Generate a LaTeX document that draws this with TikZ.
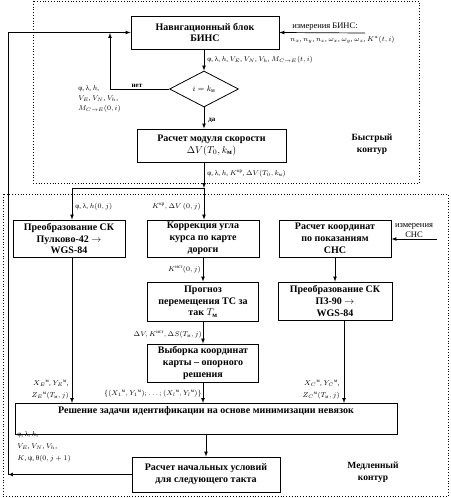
\documentclass[tikz,border=0pt]{standalone}
\usepackage{amsmath,amssymb}
\usepackage{fontspec}
\setmainfont{Liberation Serif}
\usetikzlibrary{arrows,shapes.geometric}

\tikzset{
  blok/.style={draw, line width=0.8pt, align=center, inner sep=1pt,
    font=\fontsize{10}{11.8}\selectfont\bfseries},
  romb/.style={draw, diamond, line width=0.8pt, inner sep=0pt, aspect=1.9,
    font=\fontsize{8.5}{10}\selectfont},
  metka/.style={font=\fontsize{7}{12}\selectfont, inner sep=0pt, align=left},
  ramka/.style={dotted, line width=0.8pt},
  kontur/.style={font=\fontsize{9.5}{12}\selectfont\bfseries, align=center},
}

\begin{document}
\begin{tikzpicture}[x=1pt,y=-1pt,>=latex,line width=0.7pt]
\useasboundingbox (0,0) rectangle (450,498);

% contours
\draw[ramka] (33,1) rectangle (419,183);
\draw[ramka] (3,194) rectangle (448,496);
\node[kontur] (bystr) at (372,144) {Быстрый\\контур};
\node[kontur] (medl) at (373,472) {Медленный\\контур};

% helper points
\coordinate (jB) at (110,33);
\coordinate (jR) at (204,188);
\coordinate (inB) at (365,33);
\coordinate (inS) at (437,239);
\coordinate (lB) at (8,474);
\coordinate (xE) at (72,0);
\coordinate (xC) at (344,0);

% fast contour
\node[blok, minimum width=148pt, minimum height=33pt] (bins) at (205,32.5) {Навигационный блок\\БИНС};
\node[romb, minimum width=69pt, minimum height=36pt] (rmb) at (204,89) {$i = k_{\text{м}}$};
\node[blok, minimum width=149pt, minimum height=33pt] (skor) at (211.5,145.5) {Расчет модуля скорости\\$\Delta V(T_0,k_{\text{м}})$};

% slow contour
\node[blok, minimum width=112pt, minimum height=37pt] (preob) at (69,238.5) {Преобразование СК\\Пулково-42 $\rightarrow$\\WGS-84};
\node[blok, minimum width=112pt, minimum height=37pt] (korr) at (203,238.5) {Коррекция угла\\курса по карте\\дороги};
\node[blok, minimum width=112pt, minimum height=37pt] (snsr) at (335,238.5) {Расчет координат\\по показаниям\\СНС};
\node[blok, minimum width=111pt, minimum height=39pt] (prog) at (203,301.5) {Прогноз\\перемещения ТС за\\так $T_{\text{м}}$};
\node[blok, minimum width=114pt, minimum height=38pt] (pz) at (335,301) {Преобразование СК\\ПЗ-90 $\rightarrow$\\WGS-84};
\node[blok, minimum width=111pt, minimum height=38pt] (vyb) at (203,363) {Выборка координат\\карты -- опорного\\решения};
\node[blok, minimum width=382pt, anchor=north, inner ysep=3pt, text height=7pt, text depth=18pt] (resh) at (206,403) {Решение задачи идентификации на основе минимизации невязок};
\node[blok, minimum width=148pt, minimum height=35pt] (nach) at (206,474.5) {Расчет начальных условий\\для следующего такта};

% labels
\node[metka, anchor=south west, font=\fontsize{8.5}{10}\selectfont] (izmB) at (292,31) {измерения БИНС:};
\node[metka, anchor=north west] (izmB2) at (290,36) {$n_x$, $n_y$, $n_z$, $\omega_x$, $\omega_y$, $\omega_z$, $K^a(t,i)$};
\node[metka, anchor=west] (lbB) at (207,60) {φ, λ, $h$, $V_E$, $V_N$, $V_h$, $M_{C\to E}(t,i)$};
\node[metka, anchor=south] (lbNet) at (137,88) {\bfseries нет};
\node[metka, anchor=west, font=\fontsize{7}{10}\selectfont] (lbL) at (78,99) {φ, λ, $h$,\\$V_E$, $V_N$, $V_h$,\\$M_{C\to E}(0,i)$};
\node[metka, anchor=west] (lbDa) at (208,120) {\bfseries да};
\node[metka, anchor=west] (lbSk) at (207,174) {φ, λ, $h$, $K^{\text{кр}}$, $\Delta V(T_0,k_{\text{м}})$};
\node[metka, anchor=west] (lbP) at (75,207) {φ, λ, $h(0, j)$};
\node[metka, anchor=east] (lbK) at (201,207) {$K^{\text{кр}}, \Delta V\,(0, j)$};
\node[metka, align=center, font=\fontsize{8.5}{10}\selectfont] (izmS) at (414,231) {измерения\\СНС};
\node[metka, anchor=east] (lbKi) at (201,270) {$K^{\text{ист}}(0, j)$};
\node[metka, anchor=east] (lbPr) at (202,335) {$\Delta V, K^{\text{ист}}, \Delta S(T_{\text{м}}, j)$};
\node[metka, anchor=east, align=right] (lbE) at (69,390) {$X_E{}^{\text{м}}$, $Y_E{}^{\text{м}}$,\\$Z_E{}^{\text{м}}(T_{\text{м}}, j)$};
\node[metka, anchor=east] (lbV) at (202,394) {$\{(X_1{}^{\text{м}},Y_1{}^{\text{м}});\ldots;(X_l{}^{\text{м}},Y_l{}^{\text{м}})\}$};
\node[metka, anchor=east, align=right] (lbC) at (340,390) {$X_C{}^{\text{м}}$, $Y_C{}^{\text{м}}$,\\$Z_C{}^{\text{м}}(T_{\text{м}}, j)$};
\node[metka, anchor=west] (lbN) at (17,447) {φ, λ, $h$,\\$V_E$, $V_N$, $V_h$,\\$K$, ψ, θ$(0, j+1)$};

% connectors
\draw[->] (inB) -- (bins.east);
\draw[->] (rmb.north |- bins.south) -- (rmb.north);
\draw[->] (rmb.west) -| (jB);
\draw[->] (rmb.south) -- (rmb.south |- skor.north);
\draw[->] (jR |- skor.south) -- (jR);
\draw[->] (jR) -| (xE |- preob.north);
\draw[->] (jR) -- (jR |- korr.north);
\draw[->] (inS) -- (snsr.east |- inS);
\draw[->] (korr.south) -- (prog.north);
\draw[->] (snsr.south) -- (pz.north);
\draw[->] (prog.south) -- (vyb.north);
\draw[->] (xE |- preob.south) -- (xE |- resh.north);
\draw[->] (vyb.south) -- (vyb.south |- resh.north);
\draw[->] (xC |- pz.south) -- (xC |- resh.north);
\draw[->] (resh.south -| nach.north) -- (nach.north);
\draw[->] (nach.west) -- (lB |- nach.west);
\draw[->] (lB |- nach.west) |- (bins.west);

\end{tikzpicture}
\end{document}
